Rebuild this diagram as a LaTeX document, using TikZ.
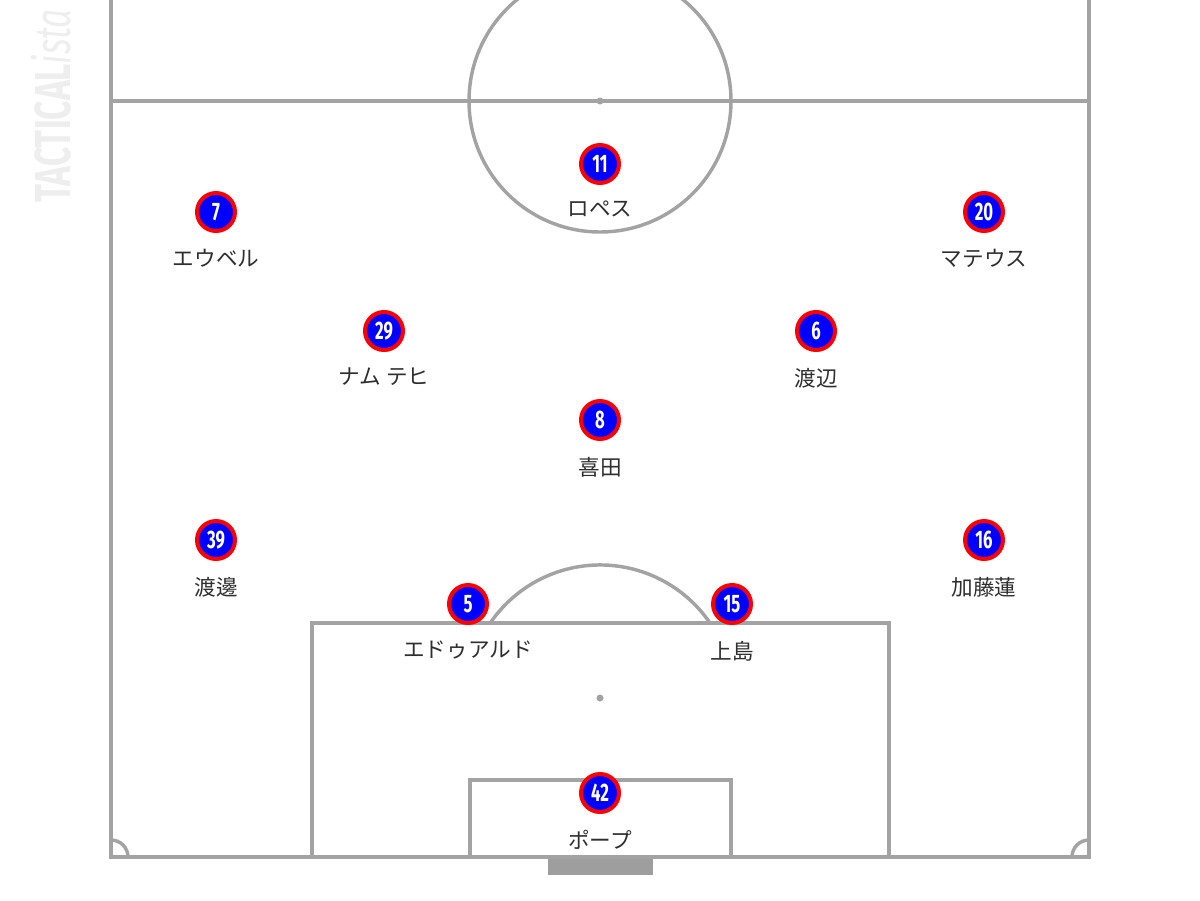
\documentclass[tikz,border=0pt]{standalone}
\usepackage{fontspec}
\newfontfamily\jpfont{Noto Sans CJK JP}
\newfontfamily\numfont{Fira Sans}
\usetikzlibrary{positioning}

\definecolor{linegray}{HTML}{A3A3A3}
\definecolor{goalgray}{HTML}{9E9E9E}
\definecolor{markgray}{HTML}{EEEEEE}
\definecolor{namegray}{HTML}{2E2E2E}

\tikzset{
  pitchline/.style={draw=linegray, line width=2.6pt},
  player/.style={circle, fill=blue, draw=red, line width=3pt, minimum size=28.5pt, inner sep=0pt, text=white, font=\numfont\bfseries\fontsize{19}{19}\selectfont},
  plname/.style={inner sep=0pt, text=namegray, font=\jpfont\fontsize{16.2}{16.2}\selectfont},
}
\newcommand{\num}[1]{\scalebox{0.66}[1]{#1}}

\begin{document}
\begin{tikzpicture}[x=0.75pt,y=0.75pt,yscale=-1,xscale=1]
\useasboundingbox (0,0) rectangle (1200,900);
\clip (0,0) rectangle (1200,900);

        %Watermark
        \node [anchor=base west, rotate=90, inner sep=0pt, text=markgray, font=\numfont\fontsize{38}{38}\selectfont] (mark) at (70,203) {\scalebox{0.66}[1]{\bfseries TACTICAL\itshape\mdseries ista}};

        %Sidelines and goal line
        \draw [pitchline]   (111,-5) -- (111,857) -- (1089,857) -- (1089,-5) ;
        %Halfway line
        \draw [pitchline]   (111,101) -- (1089,101) ;
        %Centre circle
        \draw [pitchline]   (600,101) circle [radius=131] ;
        \fill [linegray]    (600,101) circle [radius=3.5] ;
        %Penalty box
        \draw [pitchline]   (312,857) -- (312,623) -- (889,623) -- (889,857) ;
        %Six-yard box
        \draw [pitchline]   (470,857) -- (470,780) -- (731,780) -- (731,857) ;
        %Penalty spot and arc
        \fill [linegray]    (600,698) circle [radius=3.5] ;
        \draw [pitchline]   (710,623) arc (-34.3:-145.7:133) ;
        %Corner arcs
        \draw [pitchline]   (128,857) arc (0:-90:17) ;
        \draw [pitchline]   (1072,857) arc (180:270:17) ;
        %Goal
        \fill [goalgray]    (548,859) rectangle (653,875) ;

        %Players
        \node [player] (p11) at (600,164) {\num{11}};
        \node [plname, below=12pt of p11] (n11) {ロペス};
        \node [player] (p7) at (216,212) {\num{7}};
        \node [plname, below=12pt of p7] (n7) {エウベル};
        \node [player] (p20) at (984,212) {\num{20}};
        \node [plname, below=12pt of p20] (n20) {マテウス};
        \node [player] (p29) at (384,331) {\num{29}};
        \node [plname, below=12pt of p29] (n29) {ナム テヒ};
        \node [player] (p6) at (816,331) {\num{6}};
        \node [plname, below=12pt of p6] (n6) {渡辺};
        \node [player] (p8) at (600,420) {\num{8}};
        \node [plname, below=12pt of p8] (n8) {喜田};
        \node [player] (p39) at (216,540) {\num{39}};
        \node [plname, below=12pt of p39] (n39) {渡邊};
        \node [player] (p16) at (984,540) {\num{16}};
        \node [plname, below=12pt of p16] (n16) {加藤蓮};
        \node [player] (p5) at (468,604) {\num{5}};
        \node [plname, below=12pt of p5] (n5) {エドゥアルド};
        \node [player] (p15) at (732,604) {\num{15}};
        \node [plname, below=12pt of p15] (n15) {上島};
        \node [player] (p42) at (600,793) {\num{42}};
        \node [plname, below=12pt of p42] (n42) {ポープ};
\end{tikzpicture}
\end{document}
